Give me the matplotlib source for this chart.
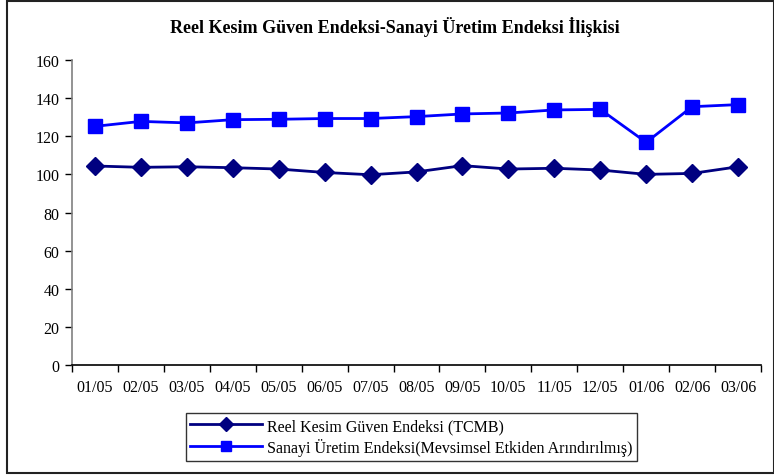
import matplotlib
matplotlib.use("Agg")
import matplotlib.pyplot as plt
from matplotlib.patches import Rectangle
import numpy as np

months = ["01/05", "02/05", "03/05", "04/05", "05/05", "06/05", "07/05", "08/05",
          "09/05", "10/05", "11/05", "12/05", "01/06", "02/06", "03/06"]
reel_kesim = [104.4, 103.7, 104.0, 103.5, 102.8, 101.0, 99.8, 101.3,
              104.6, 102.8, 103.2, 102.3, 100.0, 100.5, 104.0]
sanayi_uretim = [125.2, 127.8, 127.0, 128.7, 128.9, 129.3, 129.3, 130.3,
                 131.7, 132.2, 133.8, 134.1, 116.8, 135.5, 136.6]
yticks = [0, 20, 40, 60, 80, 100, 120, 140, 160]

plt.rcParams['font.family'] = ['Liberation Serif', 'DejaVu Serif']

fig = plt.figure(figsize=(7.74, 4.77), dpi=100)
ax = fig.add_axes([72/774, 1-366/477, (761-72)/774, (366-61)/477])

x = np.arange(len(months))
l1, = ax.plot(x, reel_kesim, color='#000080', lw=2.0, marker='D', markersize=9,
              label='Reel Kesim Güven Endeksi (TCMB)')
l2, = ax.plot(x, sanayi_uretim, color='#0000FF', lw=2.0, marker='s', markersize=10,
              label='Sanayi Üretim Endeksi(Mevsimsel Etkiden Arındırılmış)')

ax.set_xlim(-0.5, len(months) - 0.5)
ax.set_ylim(0, 160)
ax.set_yticks(yticks)
ax.set_xticks(x)
ax.set_xticklabels(months)
ax.set_xticks(np.arange(-0.5, len(months), 1.0), minor=True)
ax.tick_params(axis='x', which='major', length=0, pad=10, labelsize=11.5)
ax.tick_params(axis='x', which='minor', length=5, direction='out', width=1)
ax.tick_params(axis='y', length=5, direction='out', width=1, labelsize=11.5, pad=4)
for s in ['top', 'right']:
    ax.spines[s].set_visible(False)
ax.spines['left'].set_color('#808080')
ax.spines['left'].set_linewidth(1.2)
ax.spines['bottom'].set_color('black')
ax.spines['bottom'].set_linewidth(1.2)

fig.text(395/774, 1-27/477, 'Reel Kesim Güven Endeksi-Sanayi Üretim Endeksi İlişkisi',
         ha='center', va='center', fontsize=13, fontweight='bold')

leg = fig.legend(handles=[l1, l2], loc='center',
                 bbox_to_anchor=((186+637)/2/774, 1-(414+462)/2/477),
                 frameon=True, fancybox=False, edgecolor='black', fontsize=11.5,
                 handlelength=4.5, borderpad=0.3, labelspacing=0.25, handletextpad=0.3)
leg.get_frame().set_linewidth(1.0)
for h in leg.legend_handles:
    h.set_markersize(7)

fig.patches.append(Rectangle((6.5/774, 1-473.5/477), (774-6.5)/774, (473.5-1.5)/477,
                             transform=fig.transFigure, fill=False,
                             edgecolor='#222222', linewidth=1.5))

fig.savefig('out.png', dpi=100)
